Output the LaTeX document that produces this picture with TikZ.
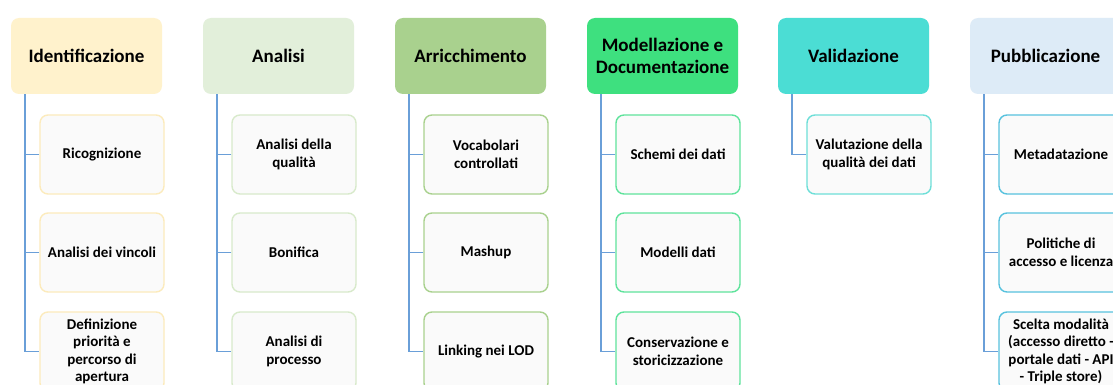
\documentclass[tikz,border=0pt]{standalone}
\usepackage{fontspec}
\setmainfont{Carlito}
\definecolor{hA}{HTML}{FFF2CC}
\definecolor{bA}{HTML}{FCEBBC}
\definecolor{hB}{HTML}{E2EFDA}
\definecolor{bB}{HTML}{D8EACB}
\definecolor{hC}{HTML}{A9D18E}
\definecolor{bC}{HTML}{A9D18E}
\definecolor{hD}{HTML}{3EE07F}
\definecolor{bD}{HTML}{5FE39C}
\definecolor{hE}{HTML}{4BDDD4}
\definecolor{bE}{HTML}{6EDFD8}
\definecolor{hF}{HTML}{DDEBF7}
\definecolor{bF}{HTML}{58C2DE}
\definecolor{conn}{HTML}{6A9FD8}
\definecolor{cfill}{HTML}{FAFAFA}
\tikzset{
  head/.style={rounded corners=8pt, minimum width=151pt, minimum height=76pt, inner sep=2pt,
    align=center, font=\fontsize{19}{22.5}\selectfont\bfseries, text=black},
  child/.style={rounded corners=8pt, minimum width=124pt, minimum height=79pt, inner sep=2pt,
    align=center, fill=cfill, line width=1.4pt, font=\fontsize{15}{17.5}\selectfont\bfseries, text=black},
  link/.style={draw=conn, line width=1.8pt}
}
\begin{document}
\begin{tikzpicture}[x=1pt,y=-1pt]
\useasboundingbox (0,0) rectangle (1113,385);
\clip (0,0) rectangle (1113,385);
\fill[white] (0,0) rectangle (1113,385);
% Column 1
\node[head, fill=hA] (h1) at (86.5,56) {Identificazione};
\node[child, draw=bA] (c11) at (102,154.5) {Ricognizione};
\node[child, draw=bA] (c12) at (102,252.5) {Analisi dei vincoli};
\node[child, draw=bA] (c13) at (102,351.5) {Definizione\\priorità e\\percorso di\\apertura};
% Column 2
\node[head, fill=hB] (h2) at (278.5,56) {Analisi};
\node[child, draw=bB] (c21) at (294,154.5) {Analisi della\\qualità};
\node[child, draw=bB] (c22) at (294,252.5) {Bonifica};
\node[child, draw=bB] (c23) at (294,351.5) {Analisi di\\processo};
% Column 3
\node[head, fill=hC] (h3) at (470.5,56) {Arricchimento};
\node[child, draw=bC] (c31) at (486,154.5) {Vocabolari\\controllati};
\node[child, draw=bC] (c32) at (486,252.5) {Mashup};
\node[child, draw=bC] (c33) at (486,351.5) {Linking nei LOD};
% Column 4
\node[head, fill=hD] (h4) at (662.5,56) {Modellazione e\\Documentazione};
\node[child, draw=bD] (c41) at (678,154.5) {Schemi dei dati};
\node[child, draw=bD] (c42) at (678,252.5) {Modelli dati};
\node[child, draw=bD] (c43) at (678,351.5) {Conservazione e\\storicizzazione};
% Column 5
\node[head, fill=hE] (h5) at (853.5,56) {Validazione};
\node[child, draw=bE] (c51) at (869,154.5) {Valutazione della\\qualità dei dati};
% Column 6
\node[head, fill=hF] (h6) at (1045.5,56) {Pubblicazione};
\node[child, draw=bF] (c61) at (1061,154.5) {Metadatazione};
\node[child, draw=bF] (c62) at (1061,252.5) {Politiche di\\accesso e licenza};
\node[child, draw=bF] (c63) at (1061,351.5) {Scelta modalità\\(accesso diretto -\\portale dati - API\\- Triple store)};
% Connectors
\foreach \i in {1,2,3,4,6}{
  \coordinate (t\i) at ([xshift=14.5pt]h\i.south west);
  \draw[link] (t\i) |- (c\i3.west);
  \draw[link] (c\i1.west) -- (c\i1.west -| t\i);
  \draw[link] (c\i2.west) -- (c\i2.west -| t\i);
}
\coordinate (t5) at ([xshift=14.5pt]h5.south west);
\draw[link] (t5) |- (c51.west);
\end{tikzpicture}
\end{document}
